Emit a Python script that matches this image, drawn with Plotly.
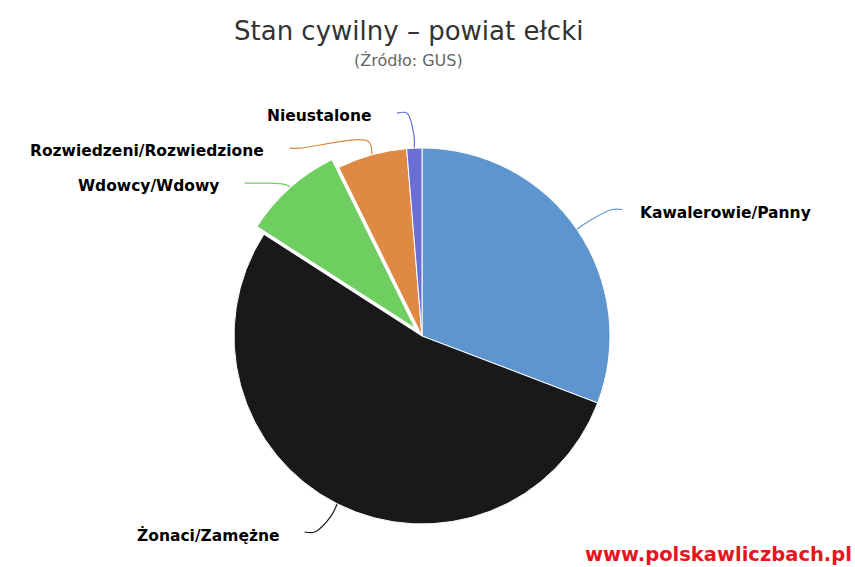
import math
import plotly.graph_objects as go

# Dane (udział w %)
labels = ['Kawalerowie/Panny', 'Żonaci/Zamężne', 'Wdowcy/Wdowy',
          'Rozwiedzeni/Rozwiedzione', 'Nieustalone']
values = [30.8, 53.3, 8.6, 6.0, 1.3]
colors = ['#5d96cf', '#19191c', '#6fce60', '#de8a45', '#6a6fd6']
pulls = [0, 0, 0.055, 0, 0]

W, H = 855, 567
cx, cy, r = 422, 336, 188

half = r * (1 + max(pulls))
dom_x = [(cx - half) / W, (cx + half) / W]
dom_y = [(H - cy - half) / H, (H - cy + half) / H]

pie = go.Pie(labels=labels, values=values, sort=False, direction='clockwise',
             rotation=0, pull=pulls, textinfo='none', hoverinfo='label+percent',
             marker=dict(colors=colors, line=dict(color='white', width=1)),
             domain=dict(x=dom_x, y=dom_y), showlegend=False)

# pozycje etykiet i linii laczacych, liczone z katow wycinkow
total = sum(values)
mids = []
acc = 0
for v in values:
    mids.append(math.radians((acc + v / 2) / total * 360))
    acc += v

R_lab, R_end, kx, gap = 223, 224, 1.083, 35
label_y = [min(cy - R_lab * math.cos(a), 532) for a in mids]
for side in (1, -1):
    idx = sorted([i for i, a in enumerate(mids) if (math.sin(a) > 0) == (side > 0)],
                 key=lambda i: label_y[i])
    for j in range(1, len(idx)):
        label_y[idx[j]] = max(label_y[idx[j]], label_y[idx[j - 1]] + gap)

traces = [pie]
annotations = []
for i, a in enumerate(mids):
    side = 1 if math.sin(a) > 0 else -1
    y_end = label_y[i]
    dy = y_end - cy
    x_end = cx + side * kx * math.sqrt(max(R_end ** 2 - dy ** 2, 0))
    sx, sy = cx + r * math.sin(a), cy - r * math.cos(a)
    bx, by = cx + (r + 14) * math.sin(a), cy - (r + 14) * math.cos(a)
    traces.append(go.Scatter(
        x=[sx, bx, x_end - side * 10, x_end], y=[sy, by, y_end, y_end],
        mode='lines', line=dict(color=colors[i], width=1.2, shape='spline'),
        hoverinfo='skip', showlegend=False))
    annotations.append(dict(
        x=x_end + (16 if side > 0 else -24), y=y_end + 3, xref='x', yref='y',
        text='<b>' + labels[i] + '</b>', showarrow=False,
        xanchor='left' if side > 0 else 'right', yanchor='middle',
        font=dict(family='DejaVu Sans', size=15.5, color='#000000')))

annotations.append(dict(
    x=408 / W, y=1 - 31 / H, xref='paper', yref='paper',
    text='Stan cywilny – powiat ełcki', showarrow=False,
    xanchor='center', yanchor='middle',
    font=dict(family='DejaVu Sans', size=26, color='#333333')))
annotations.append(dict(
    x=408 / W, y=1 - 60 / H, xref='paper', yref='paper', text='(Źródło: GUS)',
    showarrow=False, xanchor='center', yanchor='middle',
    font=dict(family='DejaVu Sans', size=16, color='#666666')))
annotations.append(dict(
    x=853 / W, y=0, xref='paper', yref='paper',
    text='<b>www.polskawliczbach.pl</b>', showarrow=False,
    xanchor='right', yanchor='bottom', borderpad=0,
    font=dict(family='DejaVu Sans', size=19.5, color='#e8141c')))

layout = go.Layout(
    width=W, height=H, margin=dict(l=0, r=0, t=0, b=0),
    paper_bgcolor='white', plot_bgcolor='rgba(0,0,0,0)',
    xaxis=dict(range=[0, W], visible=False, fixedrange=True),
    yaxis=dict(range=[H, 0], visible=False, fixedrange=True),
    annotations=annotations)

fig = go.Figure(data=traces, layout=layout)
# bez domyslnego marginesu strony (8 px), by wykres zaczynal sie w rogu okna
fig.write_html('out.html', config={'displayModeBar': False},
               post_script="document.body.style.margin='0';")
